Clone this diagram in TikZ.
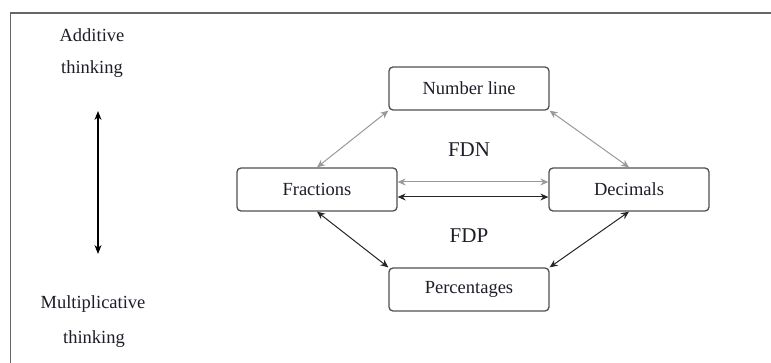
\documentclass[tikz,border=0pt]{standalone}
\usepackage{fontspec}
\setmainfont{Liberation Serif}
\usetikzlibrary{arrows.meta}
\definecolor{boxline}{HTML}{505050}
\definecolor{lightarrow}{HTML}{999999}
\definecolor{framegray}{HTML}{666666}
\definecolor{ink}{HTML}{1E1E28}
\begin{document}
\begin{tikzpicture}[x=1pt,y=-1pt,
  concept/.style={draw=boxline,line width=1.3pt,rounded corners=4pt,fill=white,
    minimum width=160pt,minimum height=43pt,inner sep=0pt,text=ink,
    font=\fontsize{18.5}{22}\selectfont},
  label/.style={inner sep=0pt,text=ink,font=\fontsize{18.5}{22}\selectfont},
  big/.style={inner sep=0pt,text=ink,font=\fontsize{21}{24}\selectfont},
  link/.style={line width=1pt,{Stealth[length=8pt,width=7pt]}-{Stealth[length=8pt,width=7pt]}},
  greylink/.style={link,draw=lightarrow,{Stealth[length=8pt,width=7pt,color=lightarrow]}-{Stealth[length=8pt,width=7pt,color=lightarrow]}},
  blacklink/.style={link,draw=black!85}]
\useasboundingbox (0,0) rectangle (771,363);
\clip (0,0) rectangle (771,363);
\fill[white] (0,0) rectangle (771,363);
% outer frame, running off the right and bottom edges
\draw[framegray,line width=1.5pt] (10.5,380) -- (10.5,13) -- (790,13);

% axis labels
\node[label] (add) at (92,35) {Additive};
\node[label] (addt) at (92,69) {thinking};
\node[label] (mul) at (93,304) {Multiplicative};
\node[label] (mult) at (94,339) {thinking};
\coordinate (atop) at (98,111);
\coordinate (abot) at (98,254);
\draw[line width=1.1pt,{Stealth[length=9pt,width=7pt]}-{Stealth[length=9pt,width=7pt]}] (atop) -- (abot);

% concept boxes
\node[concept] (nl) at (469,88.5) {Number line};
\node[concept] (fr) at (317,189.5) {Fractions};
\node[concept] (de) at (629,189.5) {Decimals};
\node[concept] (pc) at (469,289.5) {Percentages};

\node[big] (fdn) at (469,150) {FDN};
\node[big] (fdp) at (469,236) {FDP};

% connections
\draw[greylink] (fr.north) -- (nl.south west);
\draw[greylink] (de.north) -- (nl.south east);
\draw[greylink] ([yshift=7.5pt]fr.east) -- ([yshift=7.5pt]de.west);
\draw[blacklink] ([yshift=-7.5pt]fr.east) -- ([yshift=-7.5pt]de.west);
\draw[blacklink] (fr.south) -- (pc.north west);
\draw[blacklink] (de.south) -- (pc.north east);
\end{tikzpicture}
\end{document}
